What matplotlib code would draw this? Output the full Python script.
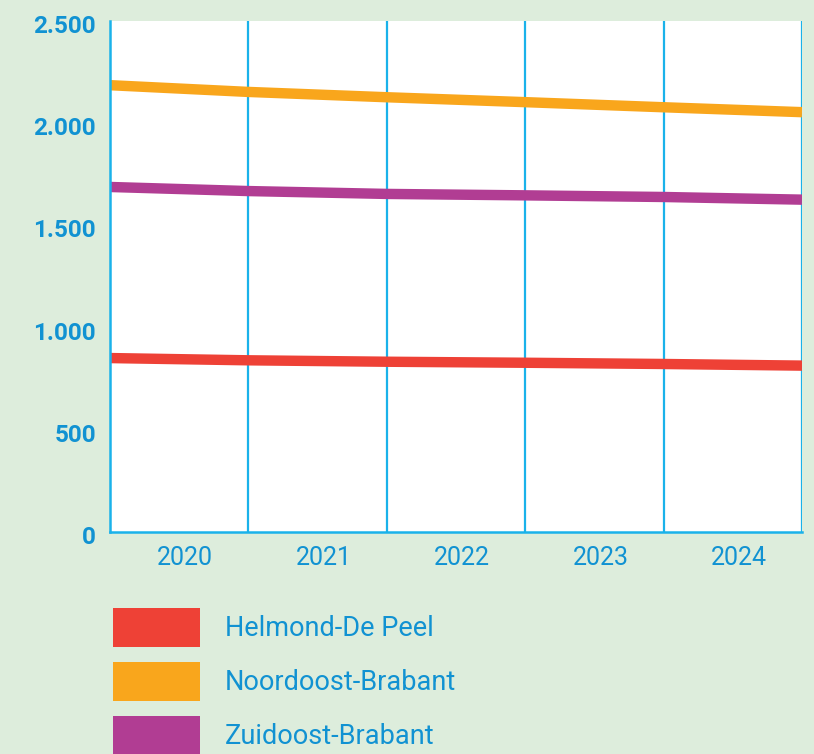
import matplotlib.pyplot as plt
from matplotlib.patches import Patch
from matplotlib.transforms import ScaledTranslation

jaren = ['2020', '2021', '2022', '2023', '2024']
rasterpunten = [0, 1, 2, 3, 4, 5]
helmond = [851, 840, 833, 828, 822, 814]
noordoost = [2186, 2153, 2127, 2103, 2078, 2054]
zuidoost = [1688, 1668, 1654, 1647, 1639, 1626]
regio_namen = ['Helmond-De Peel', 'Noordoost-Brabant', 'Zuidoost-Brabant']
kleuren = ['#ee4136', '#f9a61c', '#b13d93']

BG = '#ddeddc'
BLUE = '#1ab2ea'
TEXT = '#1192d2'

plt.rcParams['font.family'] = ['Roboto', 'DejaVu Sans']

fig = plt.figure(figsize=(8.14, 7.54), dpi=100, facecolor=BG)
ax = fig.add_axes([110 / 814, 222 / 754, 692 / 814, 511 / 754])
ax.set_facecolor('white')

for serie, kleur in zip([helmond, noordoost, zuidoost], kleuren):
    ax.plot(rasterpunten, serie, color=kleur, linewidth=7.5, solid_capstyle='butt')

ax.set_xlim(0, 5)
ax.set_ylim(0, 2500)
ax.set_yticks([0, 500, 1000, 1500, 2000, 2500])
ax.set_yticklabels(['0', '500', '1.000', '1.500', '2.000', '2.500'],
                   fontsize=17.5, fontweight='bold', color=TEXT)
ax.set_xticks([0.5, 1.5, 2.5, 3.5, 4.5])
ax.set_xticklabels(jaren, fontsize=18, color=TEXT)
ax.tick_params(axis='both', length=0)
ax.tick_params(axis='y', pad=10)
ax.tick_params(axis='x', pad=10)

# kleine verschuiving van de labels zoals in het origineel
y_shift = ScaledTranslation(0, -3 / 100, fig.dpi_scale_trans)
for lbl in ax.get_yticklabels():
    lbl.set_transform(lbl.get_transform() + y_shift)
x_shift = ScaledTranslation(6 / 100, 0, fig.dpi_scale_trans)
for lbl in ax.get_xticklabels():
    lbl.set_transform(lbl.get_transform() + x_shift)

for x in rasterpunten[1:]:
    ax.axvline(x, color=BLUE, linewidth=1.6, zorder=0.5)

for side in ['top', 'right']:
    ax.spines[side].set_visible(False)
for side in ['left', 'bottom']:
    ax.spines[side].set_color(BLUE)
    ax.spines[side].set_linewidth(1.8)

handles = [Patch(facecolor=k, edgecolor='none') for k in kleuren]
fig.legend(handles, regio_namen, loc='upper left',
           bbox_to_anchor=(113 / 814, 1 - 608 / 754), frameon=False,
           fontsize=19.5, labelcolor=TEXT, handlelength=3.21, handleheight=1.84,
           handletextpad=0.92, labelspacing=0.55, borderpad=0, borderaxespad=0)

fig.savefig('out.png', dpi=100, facecolor=BG)
